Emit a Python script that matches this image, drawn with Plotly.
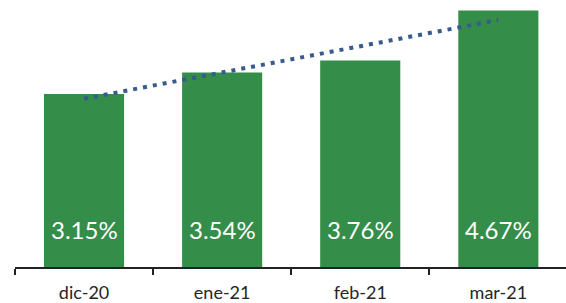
import numpy as np
import plotly.graph_objects as go

categories = ["dic-20", "ene-21", "feb-21", "mar-21"]
values = [3.15, 3.54, 3.76, 4.67]
value_labels = ["3.15%", "3.54%", "3.76%", "4.67%"]

bar_color = "#348D48"
trend_color = "#375B8E"

# linear trendline (least squares) from the data
idx = np.arange(1, len(values) + 1)
slope, intercept = np.polyfit(idx, values, 1)
trend = list(slope * idx + intercept)

fig = go.Figure()
fig.add_trace(go.Bar(
    x=categories, y=values,
    marker=dict(color=bar_color, line=dict(width=0)),
    hoverinfo="skip",
))
fig.add_trace(go.Scatter(
    x=categories, y=trend, mode="lines",
    line=dict(color=trend_color, width=4, dash="4px,6px"),
    hoverinfo="skip",
))

for c, lab in zip(categories, value_labels):
    fig.add_annotation(
        x=c, y=0, yref="y", xref="x", text=lab, showarrow=False,
        yshift=38, font=dict(family="Lato", size=24, color="white"),
    )

fig.update_layout(
    width=566, height=303,
    margin=dict(l=15, r=0, t=0, b=36),
    plot_bgcolor="white", paper_bgcolor="white",
    showlegend=False,
    bargap=0.42,
    xaxis=dict(
        type="category", range=[-0.5, 3.49],
        showgrid=False, zeroline=False,
        showline=True, linecolor="#222", linewidth=1.5,
        ticks="outside", tickson="boundaries", ticklen=6,
        tickcolor="#222", tickwidth=1.5,
        tickfont=dict(family="Lato", size=18, color="#262626"),
        ticklabelstandoff=9,
    ),
    yaxis=dict(
        range=[0, 4.86], visible=False, showgrid=False, zeroline=False,
    ),
)

fig.write_html(
    "out.html",
    config={"displayModeBar": False},
    post_script="document.body.style.margin='0';document.body.style.overflow='hidden';",
)
